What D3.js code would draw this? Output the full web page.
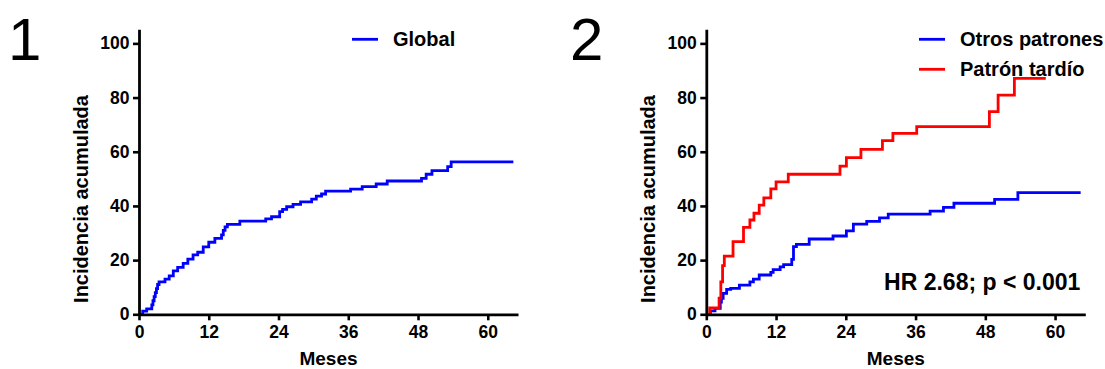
<!DOCTYPE html>
<html>
<head>
<meta charset="utf-8">
<script src="https://cdn.jsdelivr.net/npm/d3@7"></script>
<style>
  html, body { margin: 0; padding: 0; background: #fff; }
  svg { display: block; }
  text { font-family: "Liberation Sans", Arial, sans-serif; }
</style>
</head>
<body>
<svg id="chart" width="1105" height="369"></svg>
<script>
// ---------- data ----------
const xTicks = [0, 12, 24, 36, 48, 60];
const yTicks = [0, 20, 40, 60, 80, 100];
const xLabel = "Meses";
const yLabel = "Incidencia acumulada";

const globalMonths = [0, 0.64, 1.32, 2.2, 2.4, 2.6, 2.8, 3.0, 3.2, 3.45, 4.47, 5.2, 5.9, 6.65, 7.6, 8.4, 9.3, 10.1, 11.05, 12.0, 13.05, 14.2, 14.5, 14.8, 15.2, 17.35, 21.8, 22.8, 24.2, 24.7, 25.4, 26.5, 27.8, 29.7, 30.5, 31.4, 32.1, 36.4, 38.4, 40.8, 42.7, 48.6, 49.4, 50.4, 53.1, 53.7, 64.4];
const globalPct    = [0, 1.2, 2.0, 3.5, 5, 6.5, 8, 9.5, 11, 12, 13, 14.2, 16, 17.3, 18.8, 20.4, 21.9, 22.9, 24.9, 26.6, 28, 29.3, 31, 32.3, 33.2, 34.4, 35.2, 36, 37.9, 38.7, 39.7, 40.6, 41.5, 42.5, 43.6, 44.4, 45.5, 46.2, 47.1, 48.1, 49.2, 50.2, 51.7, 53, 54.5, 56.3, 56.3];

const otrosMonths = [0, 0.7, 1.5, 2.4, 2.6, 2.9, 3.5, 4.2, 5.7, 7.5, 8.1, 9.1, 11.1, 11.5, 12.7, 13.3, 14.7, 15.0, 15.5, 17.7, 21.8, 24.1, 25.3, 27.6, 29.8, 31.3, 38.5, 40.8, 42.6, 49.6, 53.6, 64.4];
const otrosPct    = [0, 1.3, 2.2, 4.5, 5.9, 7.7, 9.2, 9.6, 10.8, 12, 13, 14.5, 15.5, 16.5, 17.5, 18.3, 20.3, 25, 25.8, 27.8, 28.9, 30.8, 33.3, 34.3, 35.6, 37, 38.1, 39.5, 41, 42.4, 44.9, 44.9];

const tardioMonths = [0, 0.6, 2.2, 2.5, 2.8, 3.1, 4.6, 6.4, 7.5, 8.2, 9.1, 9.9, 11.1, 12.0, 14.1, 23.0, 24.1, 26.6, 30.3, 32.1, 36.2, 48.7, 50.2, 53.0, 58.4];
const tardioPct    = [0, 2.4, 6, 12, 18, 21.5, 26.8, 32.1, 34.8, 37.3, 40.3, 43.0, 46.3, 48.9, 51.7, 54.7, 57.8, 60.9, 64.1, 66.8, 69.3, 74.8, 80.9, 87.1, 87.1];

const panel1Series = [{ name: "Global", color: "#0000FF", months: globalMonths, pct: globalPct }];
const panel2Series = [
  { name: "Otros patrones", color: "#0000FF", months: otrosMonths, pct: otrosPct },
  { name: "Patrón tardío", color: "#FF0000", months: tardioMonths, pct: tardioPct }
];

// ---------- drawing ----------
const svg = d3.select("#chart");
svg.append("rect").attr("width", 1105).attr("height", 369).attr("fill", "#fff");

function drawPanel(opts) {
  const { x0, panelLabel, labelX, series, legendLineX, legendTextX, note } = opts;
  const y0 = 314.3, yTop = 29.3, width = 379;
  const x = d3.scaleLinear().domain([0, 65.2]).range([x0, x0 + width]);
  const y = d3.scaleLinear().domain([0, 105.2]).range([y0, yTop]);

  const g = svg.append("g");

  g.append("text").attr("x", labelX).attr("y", 60)
    .attr("font-size", 60).attr("font-weight", "normal").text(panelLabel);

  const line = d3.line().x(d => x(d[0])).y(d => y(d[1])).curve(d3.curveStepAfter);
  series.forEach(s => {
    const pts = s.months.map((m, i) => [m, s.pct[i]]);
    g.append("path").attr("d", line(pts)).attr("fill", "none")
      .attr("stroke", s.color).attr("stroke-width", 2.8).attr("stroke-linejoin", "miter");
  });

  const xAxis = d3.axisBottom(x).tickValues(xTicks).tickSize(6).tickPadding(5).tickSizeOuter(0);
  const yAxis = d3.axisLeft(y).tickValues(yTicks).tickSize(6).tickPadding(3.5).tickSizeOuter(0);
  const gx = g.append("g").attr("transform", `translate(0,${y0})`).call(xAxis);
  const gy = g.append("g").attr("transform", `translate(${x0},0)`).call(yAxis);
  [gx, gy].forEach(a => {
    a.select(".domain").attr("stroke", "#000").attr("stroke-width", 2.8);
    a.selectAll(".tick line").attr("stroke", "#000").attr("stroke-width", 2.6);
    a.selectAll(".tick text").attr("fill", "#000").attr("font-size", 17.5)
      .attr("font-weight", "bold").attr("font-family", "'Liberation Sans', Arial, sans-serif");
  });
  gx.selectAll(".tick text").attr("dy", "0.72em");

  g.append("text").attr("x", x0 + width / 2).attr("y", 365)
    .attr("text-anchor", "middle").attr("font-size", 19).attr("font-weight", "bold").text(xLabel);
  g.append("text").attr("transform", `translate(${x0 - 51.5},199) rotate(-90)`)
    .attr("text-anchor", "middle").attr("font-size", 20).attr("font-weight", "bold").text(yLabel);

  series.forEach((s, i) => {
    const ly = 39.3 + i * 30;
    g.append("line").attr("x1", legendLineX).attr("x2", legendLineX + 26)
      .attr("y1", ly).attr("y2", ly).attr("stroke", s.color).attr("stroke-width", 2.8);
    g.append("text").attr("x", legendTextX).attr("y", ly + 7)
      .attr("font-size", 20).attr("font-weight", "bold").text(s.name);
  });

  if (note) {
    g.append("text").attr("x", x0 + width - 5).attr("y", 290)
      .attr("text-anchor", "end").attr("font-size", 23).attr("font-weight", "bold").text(note);
  }
}

drawPanel({ x0: 139, panelLabel: "1", labelX: 8, series: panel1Series, legendLineX: 352, legendTextX: 393 });
drawPanel({ x0: 706.3, panelLabel: "2", labelX: 570, series: panel2Series, legendLineX: 919, legendTextX: 960, note: "HR 2.68; p < 0.001" });
</script>
</body>
</html>
